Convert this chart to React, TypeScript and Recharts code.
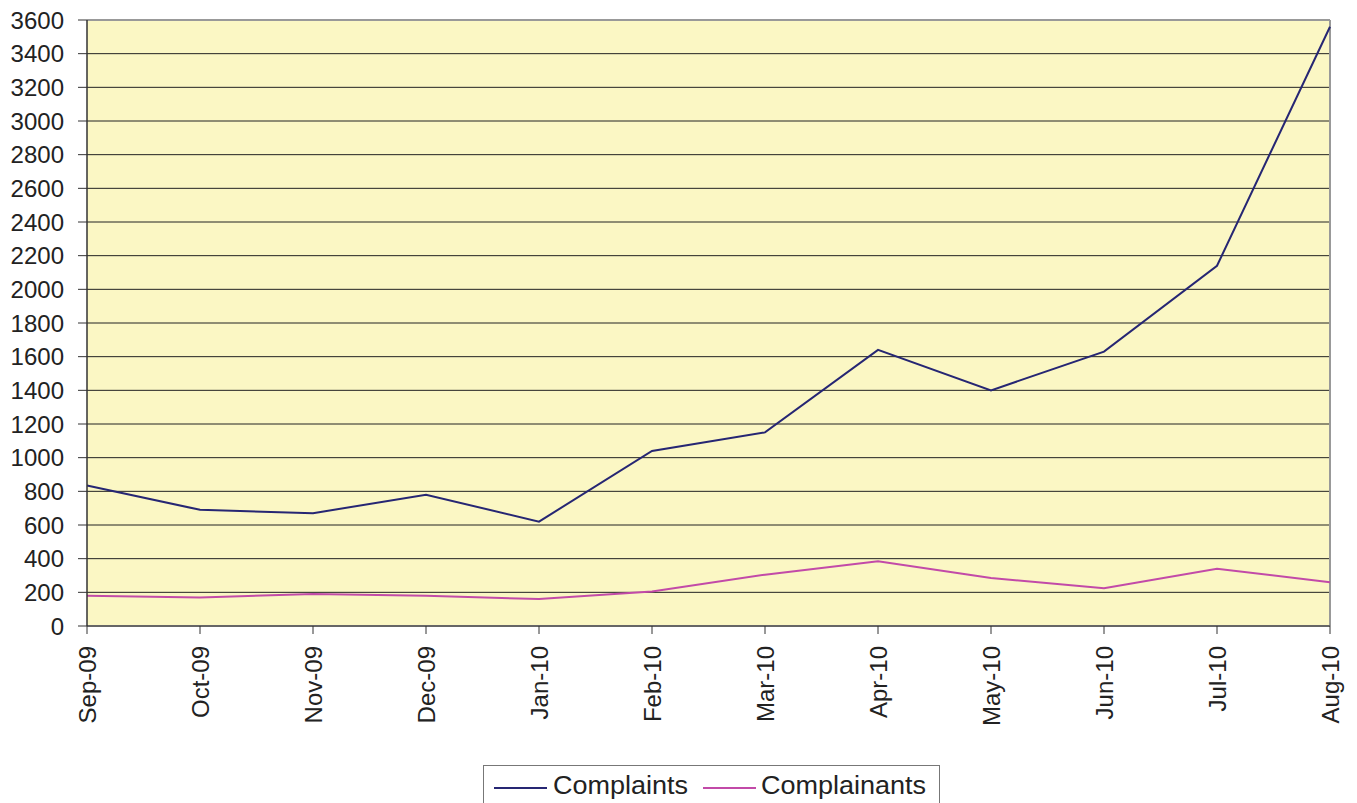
import React from 'react';
import { LineChart, Line, XAxis, YAxis, CartesianGrid, ReferenceLine } from 'recharts';

const months = ['Sep-09', 'Oct-09', 'Nov-09', 'Dec-09', 'Jan-10', 'Feb-10', 'Mar-10', 'Apr-10', 'May-10', 'Jun-10', 'Jul-10', 'Aug-10'];
const complaints = [835, 690, 670, 780, 620, 1040, 1150, 1640, 1400, 1630, 2140, 3560];
const complainants = [180, 170, 190, 180, 160, 205, 305, 385, 285, 225, 340, 260];
const yTicks = [0, 200, 400, 600, 800, 1000, 1200, 1400, 1600, 1800, 2000, 2200, 2400, 2600, 2800, 3000, 3200, 3400, 3600];
const seriesNames = ['Complaints', 'Complainants'];
const seriesColors = ['#262673', '#c24aa8'];

const data = months.map((m, i) => ({ month: m, complaints: complaints[i], complainants: complainants[i] }));

const FONT = '"Liberation Sans", Arial, sans-serif';

const XTick = (props: any) => {
  const { x, y, payload } = props;
  return (
    <g transform={`translate(${x},${y})`}>
      <text
        transform="rotate(-90)"
        x={0}
        y={0}
        dy="0.36em"
        textAnchor="end"
        fontSize={24}
        fontFamily={FONT}
        fill="#222"
      >
        {payload.value}
      </text>
    </g>
  );
};

const legendLineLeft = [10, 219];
const legendTextLeft = [69, 277];

export default function App() {
  return (
    <div style={{ position: 'absolute', left: 0, top: 0, width: 1357, height: 803, overflow: 'hidden', background: '#fff' }}>
      <LineChart width={1357} height={803} data={data} margin={{ top: 20, right: 27, left: 0, bottom: 0 }}>
        <CartesianGrid vertical={false} stroke="#222" strokeWidth={1} fill="#FBF7C4" fillOpacity={1} />
        <XAxis
          dataKey="month"
          interval={0}
          height={177}
          tickSize={8}
          tickMargin={12}
          tick={<XTick />}
          stroke="#555"
          tickLine={{ stroke: '#333' }}
          axisLine={{ stroke: '#666', strokeWidth: 2 }}
        />
        <YAxis
          domain={[0, 3600]}
          ticks={yTicks}
          interval={0}
          width={87}
          tickSize={9}
          tickMargin={14}
          tick={{ fontSize: 24, fontFamily: FONT, fill: '#222' }}
          tickLine={{ stroke: '#333' }}
          axisLine={{ stroke: '#333', strokeWidth: 1.5 }}
        />
        <ReferenceLine y={3600} stroke="#999" strokeWidth={2} />
        <ReferenceLine x="Aug-10" stroke="#999" strokeWidth={2} />
        <Line type="linear" dataKey="complaints" name={seriesNames[0]} stroke={seriesColors[0]} strokeWidth={2} dot={false} isAnimationActive={false} />
        <Line type="linear" dataKey="complainants" name={seriesNames[1]} stroke={seriesColors[1]} strokeWidth={2} dot={false} isAnimationActive={false} />
      </LineChart>
      <div
        style={{
          position: 'absolute',
          left: 483,
          top: 765,
          width: 457,
          height: 40,
          border: '1px solid #777',
          borderBottom: 'none',
          background: '#fff',
          fontFamily: FONT,
          fontSize: 25,
          color: '#222',
          boxSizing: 'border-box',
        }}
      >
        {seriesNames.map((n, i) => (
          <React.Fragment key={n}>
            <span style={{ position: 'absolute', left: legendLineLeft[i], top: 21, width: 53, height: 2, background: seriesColors[i] }} />
            <span
              style={{
                position: 'absolute',
                left: legendTextLeft[i],
                top: 4,
                whiteSpace: 'nowrap',
                transform: 'scaleX(1.08)',
                transformOrigin: 'left center',
                lineHeight: '30px',
              }}
            >
              {n}
            </span>
          </React.Fragment>
        ))}
      </div>
    </div>
  );
}
